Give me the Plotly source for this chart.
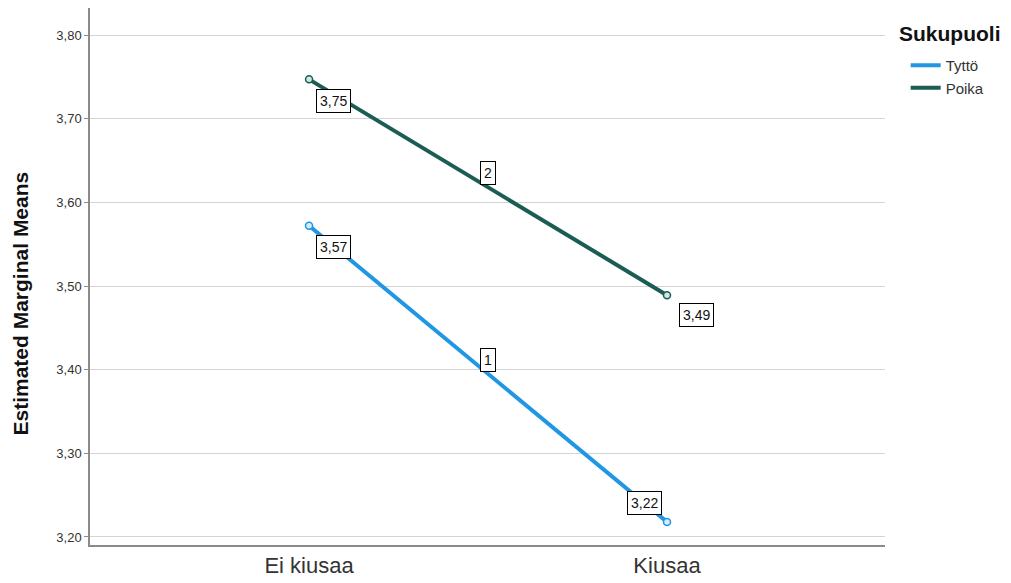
import plotly.graph_objects as go

categories = ["Ei kiusaa", "Kiusaa"]
tytto = [3.572, 3.218]
poika = [3.747, 3.489]
series_names = ["Tyttö", "Poika"]
line_ids = ["1", "2"]
y_ticks = [3.20, 3.30, 3.40, 3.50, 3.60, 3.70, 3.80]
legend_title = "Sukupuoli"
y_title = "Estimated Marginal Means"

colors = ["#2196E3", "#1B5D55"]
fills = ["#D6ECFA", "#D3E6E2"]

xs = [0, 1]
fig = go.Figure()
for name, vals, c, f in zip(series_names, [tytto, poika], colors, fills):
    fig.add_trace(go.Scatter(
        x=xs, y=vals, name=name, mode="lines+markers", showlegend=False,
        line=dict(color=c, width=4),
        marker=dict(symbol="circle", size=7, color=f, line=dict(color=c, width=1.5)),
    ))
for name, c in zip(series_names, colors):
    fig.add_trace(go.Scatter(x=[None], y=[None], name=name, mode="lines",
                             line=dict(color=c, width=4), showlegend=True))

def fmt(v):
    return f"{v:.2f}".replace(".", ",")

ann = []
box = dict(bordercolor="#000000", borderwidth=1, bgcolor="#FFFFFF", borderpad=3,
           font=dict(family="Liberation Sans, Arial", size=14, color="#111111"),
           showarrow=False)
ann.append(dict(x=xs[0], y=tytto[0], text=fmt(tytto[0]), xanchor="left", yanchor="top", xshift=7, yshift=-9, **box))
ann.append(dict(x=xs[1], y=tytto[1], text=fmt(tytto[1]), xanchor="right", yanchor="bottom", xshift=-5, yshift=7, **box))
ann.append(dict(x=xs[0], y=poika[0], text=fmt(poika[0]), xanchor="left", yanchor="top", xshift=7, yshift=-10, **box))
ann.append(dict(x=xs[1], y=poika[1], text=fmt(poika[1]), xanchor="left", yanchor="top", xshift=12, yshift=-8, **box))
for lid, vals in zip(line_ids, [tytto, poika]):
    ann.append(dict(x=0.5, y=(vals[0] + vals[1]) / 2, text=lid, xanchor="center", yanchor="middle",
                    yshift=14, **box))

ann.append(dict(xref="paper", yref="paper", x=-0.0868, y=0.4497, text=f"<b>{y_title}</b>",
                textangle=-90, showarrow=False, xanchor="center", yanchor="middle",
                font=dict(family="Liberation Sans, Arial", size=21, color="#111111")))
ann.append(dict(xref="paper", yref="paper", x=1.015, y=0.9534, text=f"<b>{legend_title}</b>",
                showarrow=False, xanchor="left", yanchor="middle",
                font=dict(family="Liberation Sans, Arial", size=21, color="#111111")))

fig.update_layout(
    width=1003, height=575,
    margin=dict(l=82, r=126, t=0, b=38),
    paper_bgcolor="white", plot_bgcolor="white",
    separators=",.",
    font=dict(family="Liberation Sans, Arial", color="#333333"),
    annotations=ann,
    xaxis=dict(
        range=[-0.612, 1.609], tickvals=xs, ticktext=categories, automargin=False,
        showgrid=False, zeroline=False, showline=True, linecolor="#8a8a8a", linewidth=1.5,
        ticks="", tickfont=dict(size=22, color="#333333"),
    ),
    yaxis=dict(
        range=[3.1904, 3.8323], tickvals=y_ticks, tickformat=".2f", automargin=False,
        showgrid=True, gridcolor="#D4D4D4", gridwidth=1, zeroline=False,
        showline=True, linecolor="#8a8a8a", linewidth=1.5,
        ticks="outside", ticklen=4, tickcolor="#8a8a8a",
        tickfont=dict(size=13, color="#333333"),
    ),
    legend=dict(
        x=1.026, y=0.9236, xanchor="left", yanchor="top",
        font=dict(size=15, color="#333333"), itemwidth=30, tracegroupgap=0,
    ),
    showlegend=True,
)

fig.write_html("out.html")
